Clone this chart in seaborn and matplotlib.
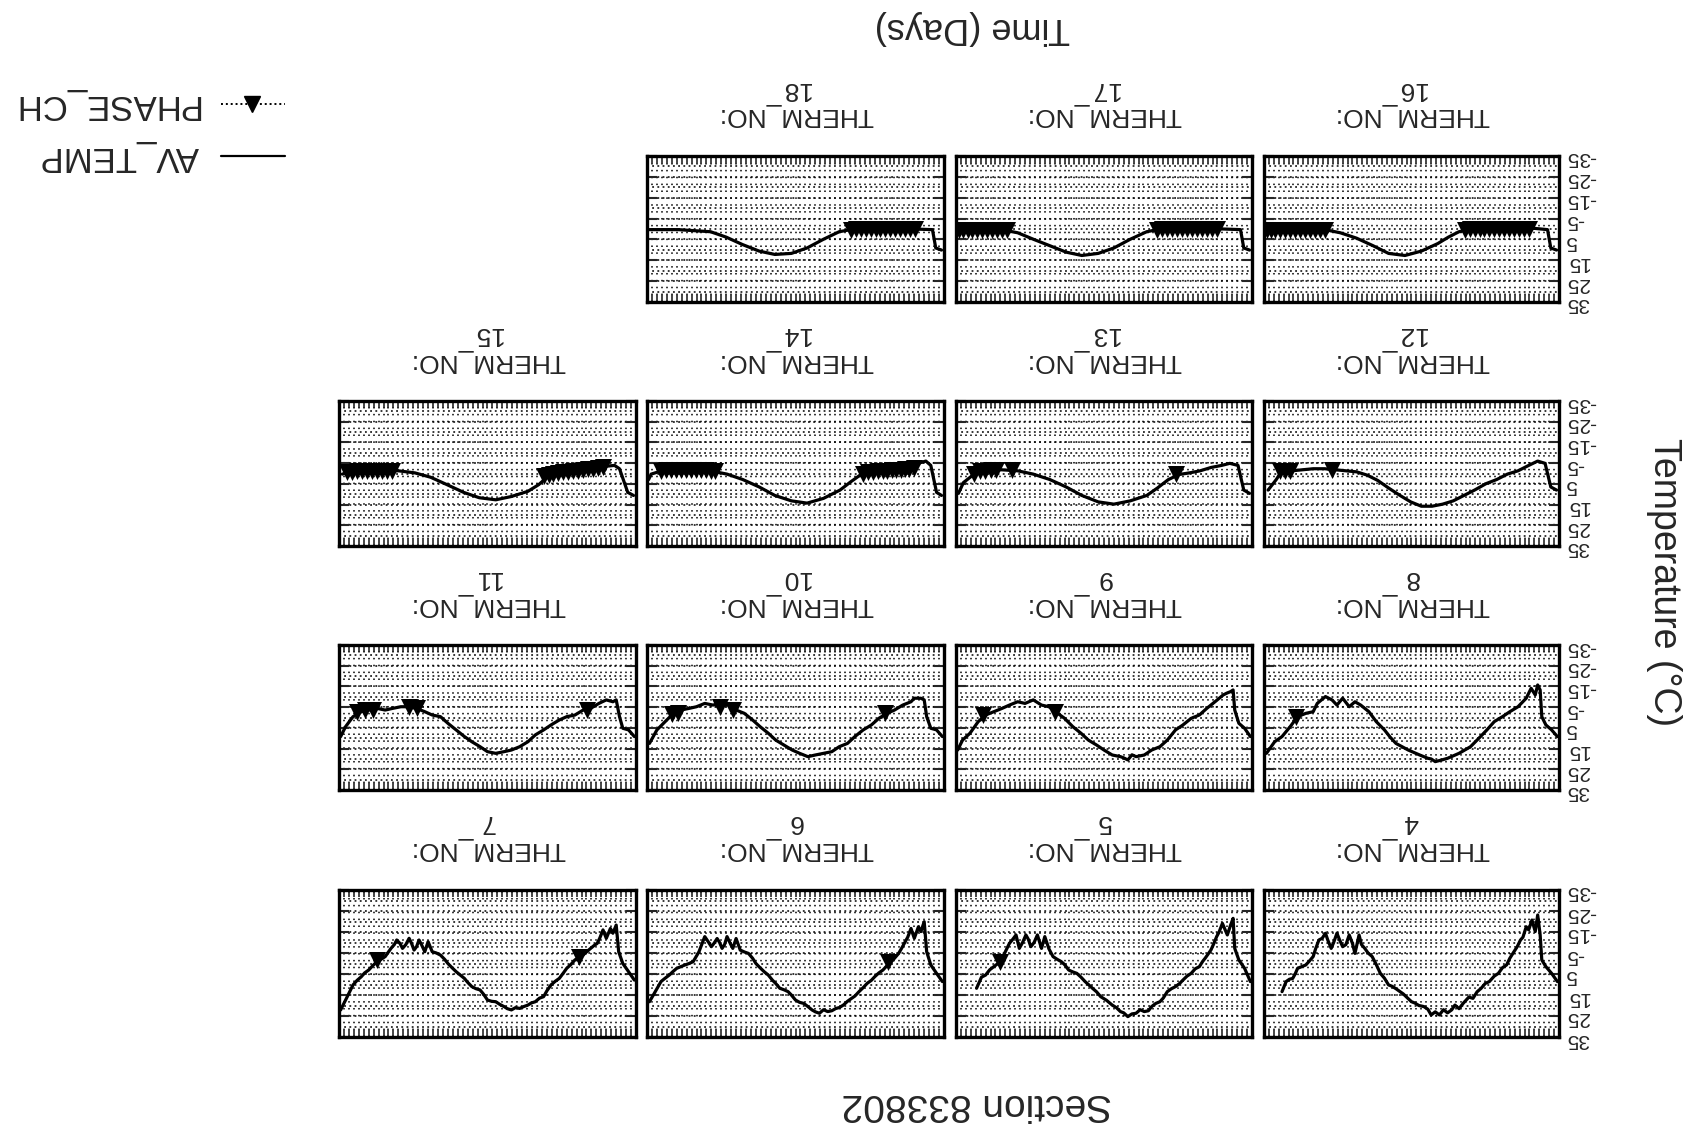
import pandas as pd
import matplotlib.pyplot as plt
import seaborn as sns

# The scanned page is upside down, so the chart is drawn the same way:
# both axes reversed and every text turned 180 degrees.

# AV_TEMP per thermistor: (day, temperature in C)
therm4 = [(2, 8.6), (9, 4.7), (16, 1.5), (21, -1.7), (23, -13.6), (26, -23.1), (29, -15.2), (33, -20.7),
          (37, -16.0), (40, -17.5), (44, -12.5), (47, -11.2), (51, -8.0), (55, -5.6), (60, -2.5), (64, 0.7),
          (69, 2.0), (74, 4.7), (79, 6.0), (85, 8.6), (90, 9.5), (95, 11.8), (100, 13.5), (105, 16.6),
          (110, 16.0), (117, 19.0), (122, 21.5), (127, 19.8), (131, 22.1), (136, 23.5), (141, 22.0),
          (146, 24.5), (151, 23.0), (156, 24.5), (160, 21.8), (165, 20.5), (171, 20.0), (176, 18.8),
          (180, 18.2), (186, 16.0), (190, 14.5), (194, 13.4), (199, 12.0), (204, 10.8), (208, 10.2),
          (213, 7.0), (218, 4.7), (223, 0.5), (228, -3.3), (233, -5.0), (237, -7.2), (241, -9.0),
          (244, -13.6), (249, -4.8), (252, -9.5), (256, -13.6), (260, -9.0), (264, -8.0), (268, -11.5),
          (271, -14.4), (275, -10.0), (278, -7.2), (282, -11.0), (285, -14.4), (289, -12.0), (293, -11.2),
          (297, -7.0), (300, -3.3), (305, -1.0), (309, 0.7), (314, 1.5), (319, 2.3), (322, 5.0), (325, 7.1),
          (329, 7.5), (333, 8.6), (338, 13.4)]
therm5 = [(2, 8.6), (9, 2.3), (16, -1.7), (21, -7.2), (23, -21.5), (26, -18.3), (30, -13.6), (36, -19.1),
          (40, -15.0), (43, -12.8), (47, -9.0), (50, -6.4), (57, -2.5), (60, -1.0), (64, 1.5), (69, 2.5),
          (74, 4.7), (79, 6.0), (84, 7.9), (88, 9.5), (93, 11.0), (98, 12.0), (103, 13.4), (108, 16.5),
          (112, 18.2), (117, 19.0), (122, 20.5), (126, 22.5), (131, 22.9), (136, 22.0), (141, 23.7),
          (146, 24.0), (151, 25.3), (156, 23.5), (160, 22.9), (165, 21.0), (170, 19.8), (177, 17.5),
          (184, 15.8), (189, 13.5), (194, 11.8), (199, 10.0), (203, 8.6), (208, 6.5), (213, 4.7), (218, 4.0),
          (223, 3.1), (228, 0.5), (232, -0.9), (237, -2.0), (242, -3.3), (247, -7.0), (252, -12.8),
          (256, -7.2), (261, -13.6), (265, -10.0), (269, -8.0), (272, -11.5), (275, -13.6), (279, -10.0),
          (283, -7.2), (287, -13.6), (291, -11.5), (295, -9.6), (302, -4.0), (309, 0.0), (314, 1.5),
          (319, 3.0), (324, 5.5), (329, 6.5), (335, 11.8)]
therm6 = [(2, 8.6), (9, 4.7), (16, 0.7), (21, -5.6), (24, -19.9), (28, -15.2), (31, -17.5), (36, -12.0),
          (40, -16.7), (44, -12.5), (47, -10.4), (51, -7.5), (55, -4.8), (60, -2.5), (64, -0.9), (69, 1.0),
          (74, 3.1), (79, 4.5), (84, 6.3), (88, 8.0), (93, 9.4), (98, 11.5), (103, 13.4), (108, 15.5),
          (112, 16.6), (117, 18.0), (122, 19.8), (127, 21.0), (131, 21.4), (136, 22.5), (141, 22.9),
          (146, 22.0), (151, 23.7), (156, 23.0), (160, 22.1), (165, 20.5), (170, 19.0), (175, 18.5),
          (180, 17.4), (185, 15.0), (189, 13.4), (194, 12.5), (199, 11.8), (204, 9.5), (208, 7.9), (213, 5.5),
          (218, 3.9), (223, 2.0), (228, 0.0), (232, -2.5), (237, -4.8), (242, -5.5), (247, -6.4),
          (252, -11.9), (256, -7.2), (259, -9.5), (263, -12.8), (266, -9.0), (269, -7.2), (272, -10.0),
          (275, -11.9), (279, -9.5), (282, -8.0), (286, -10.5), (290, -12.8), (297, -5.6), (304, -0.9),
          (309, 0.0), (314, 0.7), (319, 1.5), (324, 2.3), (329, 4.0), (333, 5.5), (338, 7.0), (343, 8.6),
          (350, 13.4), (357, 18.2)]
therm7 = [(2, 7.9), (9, 3.9), (16, 0.0), (21, -5.6), (24, -18.3), (28, -14.4), (31, -16.7), (36, -12.0),
          (40, -16.0), (44, -12.0), (47, -9.6), (51, -8.5), (55, -7.2), (60, -5.5), (64, -4.1), (69, -3.0),
          (74, -1.7), (79, 0.5), (84, 2.3), (88, 4.5), (93, 7.1), (98, 8.5), (103, 10.2), (108, 13.0),
          (112, 15.8), (117, 16.5), (122, 18.2), (127, 18.8), (131, 19.8), (136, 20.5), (141, 21.4),
          (146, 21.0), (151, 22.1), (156, 21.5), (160, 20.5), (165, 19.5), (170, 18.2), (175, 18.0),
          (180, 17.4), (185, 14.5), (189, 12.6), (194, 12.0), (199, 11.0), (204, 9.0), (208, 7.1), (213, 5.5),
          (218, 3.9), (223, 2.0), (228, 0.0), (232, -2.0), (237, -4.0), (242, -5.0), (247, -5.6),
          (252, -10.4), (256, -5.6), (260, -9.0), (263, -11.2), (266, -8.0), (269, -6.4), (272, -9.5),
          (275, -12.0), (279, -9.0), (283, -7.2), (286, -9.5), (290, -11.2), (293, -9.0), (297, -7.2),
          (304, -3.3), (309, -2.0), (314, -0.9), (319, 1.0), (324, 3.1), (329, 4.5), (333, 6.3), (338, 8.0),
          (343, 10.2), (350, 15.8), (358, 22.1)]
therm8 = [(2, 9.2), (9, 6.0), (16, 3.6), (21, -0.4), (23, -13.3), (26, -15.7), (29, -10.9), (34, -14.1),
          (40, -9.3), (50, -5.2), (60, -2.8), (69, -0.4), (79, 2.0), (88, 6.0), (98, 10.1), (108, 14.1),
          (122, 17.3), (136, 19.7), (143, 20.5), (151, 21.3), (156, 20.0), (160, 19.7), (170, 18.1),
          (184, 15.7), (199, 12.5), (206, 9.5), (213, 6.0), (223, 2.0), (232, -2.8), (242, -6.0), (249, -7.6),
          (256, -5.2), (264, -9.3), (271, -6.0), (277, -8.5), (285, -10.1), (295, -6.8), (300, -2.8),
          (309, -2.0), (319, -0.4), (328, 4.4), (338, 9.2), (347, 11.7), (357, 17.3)]
therm9 = [(2, 9.2), (9, 5.2), (16, 2.8), (21, -3.6), (23, -13.3), (26, -12.5), (31, -11.7), (35, -10.9),
          (45, -7.6), (55, -4.4), (64, -1.2), (74, 0.4), (84, 3.6), (93, 6.0), (103, 10.9), (112, 14.1),
          (122, 15.7), (131, 18.1), (141, 18.9), (146, 18.0), (151, 20.5), (156, 19.5), (160, 18.9),
          (170, 18.1), (180, 15.7), (189, 13.3), (199, 10.9), (208, 7.6), (218, 4.4), (228, 0.4), (239, -2.8),
          (247, -5.2), (256, -6.0), (266, -8.5), (276, -6.8), (285, -7.6), (295, -6.0), (304, -4.4),
          (314, -2.8), (324, -1.2), (333, 2.0), (343, 7.6), (352, 10.9), (358, 15.7)]
therm10 = [(2, 9.2), (9, 6.0), (16, 5.2), (21, -0.4), (24, -8.5), (28, -9.3), (36, -9.3), (40, -7.6),
           (50, -6.0), (60, -3.6), (69, -2.0), (79, 0.4), (88, 3.6), (98, 6.0), (108, 9.2), (117, 12.5),
           (127, 14.1), (136, 16.5), (146, 17.3), (156, 18.1), (165, 18.9), (175, 17.3), (184, 15.7),
           (194, 13.3), (204, 10.9), (213, 7.6), (223, 4.4), (232, 1.2), (242, -2.0), (252, -3.6), (261, -6.0),
           (271, -6.8), (280, -6.0), (290, -6.8), (300, -5.2), (309, -4.4), (319, -3.6), (328, -2.0),
           (338, 2.0), (348, 6.0), (357, 12.5)]
therm11 = [(2, 9.2), (9, 6.0), (16, 5.2), (20, -0.4), (24, -8.5), (28, -7.6), (36, -8.5), (45, -6.8),
           (55, -4.4), (64, -3.6), (74, -1.2), (84, -0.4), (93, 1.2), (103, 3.6), (112, 6.0), (122, 8.4),
           (131, 11.7), (141, 14.1), (151, 15.7), (160, 16.5), (170, 17.3), (180, 16.5), (189, 14.1),
           (199, 11.7), (208, 9.2), (218, 6.0), (228, 2.8), (237, -0.4), (247, -1.2), (256, -2.8), (266, -4.4),
           (276, -5.2), (285, -5.2), (295, -4.4), (304, -3.6), (314, -4.4), (324, -3.6), (333, -2.8),
           (343, -0.4), (352, 4.4), (358, 9.2)]
therm12 = [(3, 8.0), (10, 6.5), (17, -4.9), (26, -6.0), (37, -3.9), (50, -1.3), (63, 0.3), (76, 2.9),
           (89, 4.9), (103, 8.0), (116, 10.6), (129, 13.2), (142, 14.8), (155, 15.8), (168, 15.8), (181, 13.7),
           (194, 10.6), (208, 7.0), (221, 3.4), (234, 0.8), (247, -0.8), (260, -1.3), (273, -1.8), (286, -2.3),
           (300, -2.3), (313, -1.8), (326, -1.3), (339, -0.8), (345, 2.9), (355, 8.0)]
therm13 = [(3, 9.6), (10, 8.0), (17, -3.9), (27, -4.9), (37, -3.9), (50, -2.9), (63, -1.3), (76, -0.3),
           (89, 0.5), (102, 3.0), (115, 7.0), (128, 10.6), (148, 13.2), (168, 14.8), (187, 13.7), (207, 10.6),
           (226, 6.5), (246, 2.9), (266, 0.3), (285, -1.3), (305, -1.8), (325, -1.3), (338, 0.3), (351, 4.4),
           (357, 9.6)]
therm14 = [(3, 10.6), (9, 9.1), (16, -3.9), (22, -6.0), (35, -4.5), (48, -2.9), (61, -1.8), (74, -1.0),
           (87, -0.5), (100, 0.3), (113, 4.0), (126, 8.0), (146, 12.0), (166, 14.3), (185, 13.2), (205, 10.6),
           (224, 6.5), (244, 2.9), (263, 0.3), (283, -1.3), (303, -1.8), (322, -1.8), (342, -1.3), (355, 0.3),
           (358, 2.9)]
therm15 = [(3, 10.6), (10, 9.1), (20, -2.3), (26, -3.9), (39, -3.4), (52, -2.3), (65, -1.3), (79, -0.8),
           (92, -0.3), (105, 0.8), (118, 5.4), (131, 8.6), (151, 11.1), (170, 12.7), (190, 11.7), (209, 9.1),
           (229, 5.4), (249, 1.8), (268, -0.3), (288, -1.3), (308, -1.3), (327, -1.3), (347, -0.8), (356, 0.3)]
therm16 = [(3, 10.1), (10, 9.1), (14, 0.3), (30, -0.3), (70, -0.3), (109, 0.3), (122, 1.3), (135, 3.9),
           (148, 7.0), (168, 10.6), (188, 12.7), (208, 11.7), (227, 8.0), (247, 4.4), (267, 1.8), (286, 0.3),
           (326, 0.3), (357, 0.3)]
therm17 = [(3, 10.1), (10, 9.1), (14, 0.3), (56, -0.3), (115, 0.3), (128, 1.3), (148, 4.9), (168, 9.1),
           (187, 11.7), (207, 12.7), (226, 11.1), (246, 8.0), (266, 4.9), (285, 1.8), (305, 0.3), (357, 0.3)]
therm18 = [(3, 10.1), (10, 9.1), (14, 0.3), (61, -0.3), (113, 0.3), (127, 1.3), (146, 4.9), (166, 9.1),
           (185, 11.7), (205, 12.2), (224, 10.6), (244, 7.5), (264, 3.9), (283, 1.3), (303, 0.8), (322, 0.3),
           (357, 0.3)]

# PHASE_CH markers: (day, temperature in C)
phase4 = []
phase5 = [(306, -0.9)]
phase6 = [(68, -0.9)]
phase7 = [(69, -3.3), (314, -1.7)]
phase8 = [(321, -0.4)]
phase9 = [(240, -2.8), (327, -1.2)]
phase10 = [(72, -2.0), (256, -3.6), (271, -5.2), (322, -2.4), (330, -1.6)]
phase11 = [(59, -3.6), (266, -4.4), (275, -5.2), (319, -3.6), (328, -3.6), (338, -2.8)]
phase12 = [(277, -1.8), (328, -1.3), (334, -1.3), (340, -1.0)]
phase13 = [(92, 0.0), (292, -1.5), (311, -1.8), (318, -1.6), (325, -1.3), (331, -1.0), (338, 0.0)]
phase14 = [(36, -2.5), (42, -2.0), (47, -2.0), (52, -1.5), (58, -1.5), (63, -1.5), (69, -1.0), (74, -1.0),
           (80, -1.0), (86, -0.5), (92, -0.5), (98, 0.0), (277, -1.0), (283, -1.3), (289, -1.5), (295, -1.5),
           (301, -1.8), (307, -1.8), (313, -1.8), (319, -1.8), (325, -1.8), (331, -1.5), (337, -1.5),
           (343, -1.3)]
phase15 = [(40, -3.0), (46, -2.8), (52, -2.3), (58, -2.0), (64, -1.5), (70, -1.2), (76, -1.0), (82, -0.8),
           (88, -0.5), (94, -0.3), (100, 0.0), (106, 0.5), (111, 1.0), (296, -1.3), (302, -1.3), (308, -1.3),
           (314, -1.3), (320, -1.3), (326, -1.3), (332, -1.2), (338, -1.0), (344, -0.9), (350, -0.5)]
phase16 = [(37, 0.0), (43, 0.0), (49, 0.0), (55, 0.0), (61, 0.0), (67, 0.0), (73, 0.0), (79, 0.0), (85, 0.0),
           (91, 0.0), (97, 0.0), (103, 0.0), (109, 0.0), (115, 0.3), (286, 0.3), (292, 0.3), (298, 0.3),
           (304, 0.3), (310, 0.3), (316, 0.3), (322, 0.3), (328, 0.3), (334, 0.3), (340, 0.3), (346, 0.3),
           (352, 0.3), (356, 0.3)]
phase17 = [(43, 0.0), (49, 0.0), (55, 0.0), (61, 0.0), (67, 0.0), (73, 0.0), (79, 0.0), (85, 0.0), (91, 0.0),
           (97, 0.0), (103, 0.0), (109, 0.0), (115, 0.3), (298, 0.3), (304, 0.3), (310, 0.3), (316, 0.3),
           (322, 0.3), (328, 0.3), (334, 0.3), (340, 0.3), (346, 0.3), (352, 0.3), (356, 0.3)]
phase18 = [(35, 0.0), (41, 0.0), (47, 0.0), (53, 0.0), (59, 0.0), (65, 0.0), (71, 0.0), (77, 0.0), (83, 0.0),
           (89, 0.0), (95, 0.0), (101, 0.0), (107, 0.0), (113, 0.3)]

therm_numbers = [4, 5, 6, 7, 8, 9, 10, 11, 12, 13, 14, 15, 16, 17, 18]
av_temp = [therm4, therm5, therm6, therm7, therm8, therm9, therm10, therm11,
           therm12, therm13, therm14, therm15, therm16, therm17, therm18]
phase_ch = [phase4, phase5, phase6, phase7, phase8, phase9, phase10, phase11,
            phase12, phase13, phase14, phase15, phase16, phase17, phase18]
temp_ticks = [-35, -25, -15, -5, 5, 15, 25, 35]

# page layout in pixels (the page is upside down)
W, H = 1690, 1132
col_px = [(1264, 1559), (956, 1252), (647, 944), (339, 636)]
row_px = [(890, 1037), (645, 790), (401, 546), (156, 302)]

sns.set_style("white")
plt.rcParams['font.family'] = ['Liberation Sans', 'DejaVu Sans']
plt.rcParams['axes.unicode_minus'] = False  # plain hyphen like the scan

fig = plt.figure(figsize=(W / 100, H / 100), dpi=100)


def px_box(x0, x1, y0, y1):
    return [x0 / W, 1 - y1 / H, (x1 - x0) / W, (y1 - y0) / H]


for i, num in enumerate(therm_numbers):
    col = i % 4
    x0, x1 = col_px[col]
    y0, y1 = row_px[i // 4]
    ax = fig.add_axes(px_box(x0, x1, y0, y1))

    df = pd.DataFrame(av_temp[i], columns=['day', 'temp'])
    sns.lineplot(data=df, x='day', y='temp', ax=ax, color='black', linewidth=2.3,
                 estimator=None, sort=False)
    if phase_ch[i]:
        dfp = pd.DataFrame(phase_ch[i], columns=['day', 'temp'])
        sns.scatterplot(data=dfp, x='day', y='temp', ax=ax, marker='v', s=150,
                        color='black', linewidth=0, zorder=4)

    # reversed axes because the scan is upside down
    ax.set_xlim(360, 0)
    ax.set_ylim(35, -35)
    ax.set_xticks(range(0, 361, 6))
    ax.set_yticks(temp_ticks)
    ax.set_yticks(range(-35, 36, 5), minor=True)
    ax.set_xlabel('')
    ax.set_ylabel('')
    ax.grid(True, axis='x', which='major', color='black', linestyle=(0, (1, 3.5)), linewidth=1.1)
    ax.grid(True, axis='y', which='both', color='black', linestyle=(0, (1.2, 2.2)), linewidth=1.1)
    ax.tick_params(axis='both', which='both', direction='in', top=True, bottom=True,
                   left=True, right=True, labelbottom=False, labelleft=False, labelright=False)
    ax.tick_params(axis='x', length=5, width=1.2)
    ax.tick_params(axis='y', which='major', length=7, width=1.5)
    ax.tick_params(axis='y', which='minor', length=0)
    if col == 0:
        # only the outer column carries the temperature labels
        ax.tick_params(axis='y', which='major', labelright=True, labelrotation=180,
                       labelsize=15, pad=5)
    for spine in ax.spines.values():
        spine.set_visible(True)
        spine.set_color('black')
        spine.set_linewidth(2.4)

    # panel header, above the panel on the upside-down page
    ax.text(0.5, 1.37, f'THERM_NO:\n{num}', transform=ax.transAxes, rotation=180,
            ha='center', va='center', fontsize=19, linespacing=1.15)

fig.text(977 / W, 1 - 1104 / H, 'Section 833802', rotation=180, ha='center', va='center', fontsize=28)
fig.text(972 / W, 1 - 27 / H, 'Time (Days)', rotation=180, ha='center', va='center', fontsize=26)
fig.text(1664 / W, 1 - 582 / H, 'Temperature (°C)', rotation=270, ha='center', va='center', fontsize=27)

# legend drawn by hand, since a matplotlib legend cannot be turned over
leg = fig.add_axes(px_box(210, 300, 80, 180))
leg.set_xlim(0, 1)
leg.set_ylim(1, 0)
leg.axis('off')
leg.plot([0.12, 0.83], [0.76, 0.76], color='black', linewidth=1.6)
leg.plot([0.12, 0.83], [0.24, 0.24], color='black', linewidth=1.4, linestyle=(0, (1, 1.5)))
leg.plot([0.47], [0.24], marker='v', color='black', markersize=11, linestyle='none')
fig.text(199 / W, 1 - 156 / H, 'AV_TEMP', rotation=180, ha='right', va='center', fontsize=25)
fig.text(199 / W, 1 - 104 / H, 'PHASE_CH', rotation=180, ha='right', va='center', fontsize=25)

fig.savefig('out.png', dpi=100)
